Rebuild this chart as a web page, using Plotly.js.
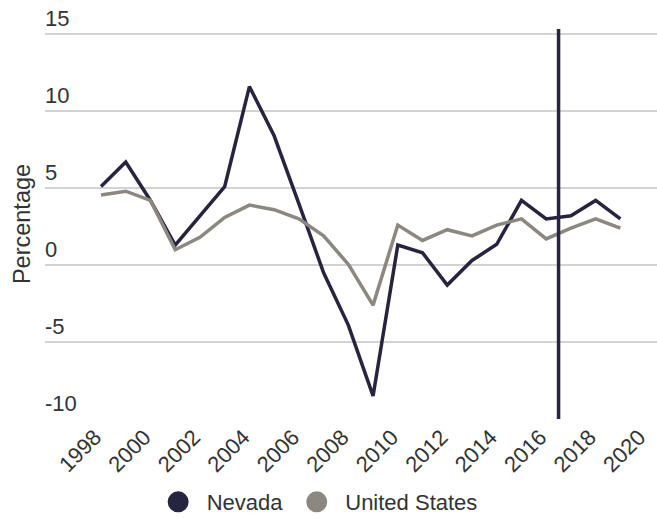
<!DOCTYPE html>
<html>
<head>
<meta charset="utf-8">
<script src="https://cdn.plot.ly/plotly-3.0.1.min.js"></script>
<style>html,body{margin:0;padding:0;background:#fff;}#chart{width:657px;height:519px;}</style>
</head>
<body>
<div id="chart"></div>
<script>
const years = [1998,1999,2000,2001,2002,2003,2004,2005,2006,2007,2008,2009,2010,2011,2012,2013,2014,2015,2016,2017,2018,2019];
const nevada = [5.1,6.7,4.2,1.3,3.2,5.1,11.6,8.4,4.0,-0.5,-3.9,-8.5,1.3,0.8,-1.3,0.3,1.35,4.2,3.0,3.2,4.2,3.0];
const unitedStates = [4.55,4.8,4.2,1.0,1.8,3.1,3.9,3.6,3.0,1.9,0.05,-2.6,2.6,1.6,2.3,1.9,2.6,3.0,1.7,2.4,3.0,2.4];
const xTickVals = [1998,2000,2002,2004,2006,2008,2010,2012,2014,2016,2018,2020];
const xTickText = ['1998','2000','2002','2004','2006','2008','2010','2012','2014','2016','2018','2020'];
const yTickVals = [-10,-5,0,5,10,15];
const yTickText = ['-10','-5','0','5','10','15'];
const markerYear = 2016.5;

const navy = '#27243f';
const grey = '#8c8781';

const traces = [
  {x: years, y: nevada, type: 'scatter', mode: 'lines', name: 'Nevada', line: {color: navy, width: 3.5}, showlegend: false},
  {x: years, y: unitedStates, type: 'scatter', mode: 'lines', name: 'United States', line: {color: grey, width: 3.5}, showlegend: false},
  {x: [null], y: [null], type: 'scatter', mode: 'markers', name: 'Nevada', marker: {color: navy, size: 16, line: {color: navy, width: 5}}},
  {x: [null], y: [null], type: 'scatter', mode: 'markers', name: 'United States', marker: {color: grey, size: 16, line: {color: grey, width: 5}}}
];

const yLabelAnnotations = yTickVals.map((v, i) => ({
  xref: 'paper', yref: 'y', x: 0, y: v, xanchor: 'left', yanchor: 'bottom',
  text: yTickText[i], showarrow: false, yshift: 1, xshift: -2,
  font: {size: 22, color: '#333'}
}));

const layout = {
  width: 657, height: 519,
  margin: {l: 45, r: 0, t: 29, b: 100, autoexpand: false},
  paper_bgcolor: '#fff', plot_bgcolor: '#fff',
  font: {family: 'Liberation Sans, Arial, sans-serif', size: 22, color: '#333'},
  xaxis: {
    range: [1995.736, 2020.48],
    tickvals: xTickVals, ticktext: xTickText,
    tickangle: -45, showgrid: false, zeroline: false, showline: false, ticks: '',
    ticklabelstandoff: 0, ticklabelshift: -6, automargin: false,
    tickfont: {size: 22, color: '#333'}
  },
  yaxis: {
    range: [-10, 15.34],
    tickvals: yTickVals,
    showticklabels: false, automargin: false,
    showgrid: true, gridcolor: '#d3d3d3', gridwidth: 2,
    zeroline: false, showline: false, ticks: '',
    title: {text: 'Percentage', font: {size: 23.5, color: '#333'}, standoff: 6}
  },
  annotations: yLabelAnnotations,
  shapes: [
    {type: 'line', xref: 'x', yref: 'paper', x0: markerYear, x1: markerYear, y0: 0, y1: 1, line: {color: navy, width: 3.5}}
  ],
  legend: {
    orientation: 'h', x: 0.171, xanchor: 'left', y: -0.213, yanchor: 'middle',
    itemwidth: 47,
    font: {size: 22, color: '#333'}, bgcolor: 'rgba(0,0,0,0)'
  },
  showlegend: true
};

Plotly.newPlot('chart', traces, layout, {displayModeBar: false, staticPlot: true});
</script>
</body>
</html>
